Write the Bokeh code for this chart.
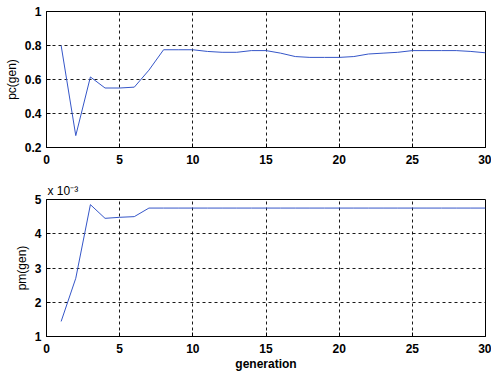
from bokeh.plotting import figure
from bokeh.layouts import column
from bokeh.models import Range1d, FixedTicker, CustomJSTickFormatter, Title
from bokeh.embed import file_html
from bokeh.resources import INLINE

generation = list(range(1, 31))
pc = [0.80, 0.27, 0.615, 0.55, 0.55, 0.555, 0.655, 0.775, 0.775, 0.775,
      0.765, 0.76, 0.76, 0.77, 0.77, 0.755, 0.735, 0.73, 0.73, 0.73,
      0.735, 0.75, 0.755, 0.76, 0.77, 0.77, 0.77, 0.77, 0.765, 0.757]
pm = [0.00144, 0.0027, 0.00485, 0.00445, 0.00448, 0.0045, 0.00475, 0.00475, 0.00475, 0.00475,
      0.00475, 0.00475, 0.00475, 0.00475, 0.00475, 0.00475, 0.00475, 0.00475, 0.00475, 0.00475,
      0.00475, 0.00475, 0.00475, 0.00475, 0.00475, 0.00475, 0.00475, 0.00475, 0.00475, 0.00475]

x_ticks = [0, 5, 10, 15, 20, 25, 30]
pc_ticks = [0.2, 0.4, 0.6, 0.8, 1.0]
pm_ticks = [0.001, 0.002, 0.003, 0.004, 0.005]

FONT = "Liberation Sans"
LINE = "#3556c8"


def style(p):
    p.outline_line_color = "black"
    p.outline_line_width = 1
    p.background_fill_color = "white"
    p.border_fill_color = "white"
    for ax in (p.xaxis[0], p.yaxis[0]):
        ax.axis_line_color = "black"
        ax.major_tick_in = 4
        ax.major_tick_out = 0
        ax.minor_tick_in = 0
        ax.minor_tick_out = 0
        ax.major_tick_line_color = "black"
        ax.major_label_text_font = FONT
        ax.major_label_text_font_size = "12px"
        ax.major_label_text_font_style = "bold"
        ax.major_label_text_color = "black"
        ax.major_label_standoff = 5
        ax.axis_label_text_font = FONT
        ax.axis_label_text_font_size = "12px"
        ax.axis_label_text_color = "black"
        ax.axis_label_standoff = 3
    p.xaxis[0].major_label_standoff = 7
    for g in (p.xgrid[0], p.ygrid[0]):
        g.grid_line_color = "black"
        g.grid_line_dash = "3 3"
        g.grid_line_width = 1
        g.grid_line_alpha = 0.9
    p.xaxis[0].ticker = FixedTicker(ticks=x_ticks)


p1 = figure(width=491, height=180, output_backend="svg", toolbar_location=None,
            x_range=Range1d(0, 30), y_range=Range1d(0.2, 1.0),
            min_border_left=46, min_border_right=6, min_border_top=11, min_border_bottom=33)
p1.line(generation, pc, line_color=LINE, line_width=1)
style(p1)
p1.yaxis[0].ticker = FixedTicker(ticks=pc_ticks)
p1.yaxis[0].formatter = CustomJSTickFormatter(code="return tick === 1 ? '1' : tick.toFixed(1);")
p1.yaxis[0].axis_label = "pc(gen)"
p1.yaxis[0].axis_label_text_font_style = "normal"

p2 = figure(width=491, height=195, output_backend="svg", toolbar_location=None,
            x_range=Range1d(0, 30), y_range=Range1d(0.001, 0.005),
            min_border_left=46, min_border_right=6, min_border_top=19, min_border_bottom=39)
p2.line(generation, pm, line_color=LINE, line_width=1)
style(p2)
p2.yaxis[0].ticker = FixedTicker(ticks=pm_ticks)
p2.yaxis[0].formatter = CustomJSTickFormatter(code="return (tick * 1000).toFixed(0);")
p2.yaxis[0].axis_label = "pm(gen)"
p2.yaxis[0].axis_label_text_font_style = "normal"
p2.xaxis[0].axis_label = "generation"
p2.xaxis[0].axis_label_text_font_style = "bold"
p2.xaxis[0].axis_label_standoff = 1

p2.add_layout(Title(text="x 10\u207b\u00b3", align="left", offset=1, standoff=3,
                    text_font=FONT, text_font_size="12px", text_color="black",
                    text_font_style="normal"), "above")

layout = column(p1, p2, spacing=0)
open("out.html", "w").write(file_html(layout, INLINE))
